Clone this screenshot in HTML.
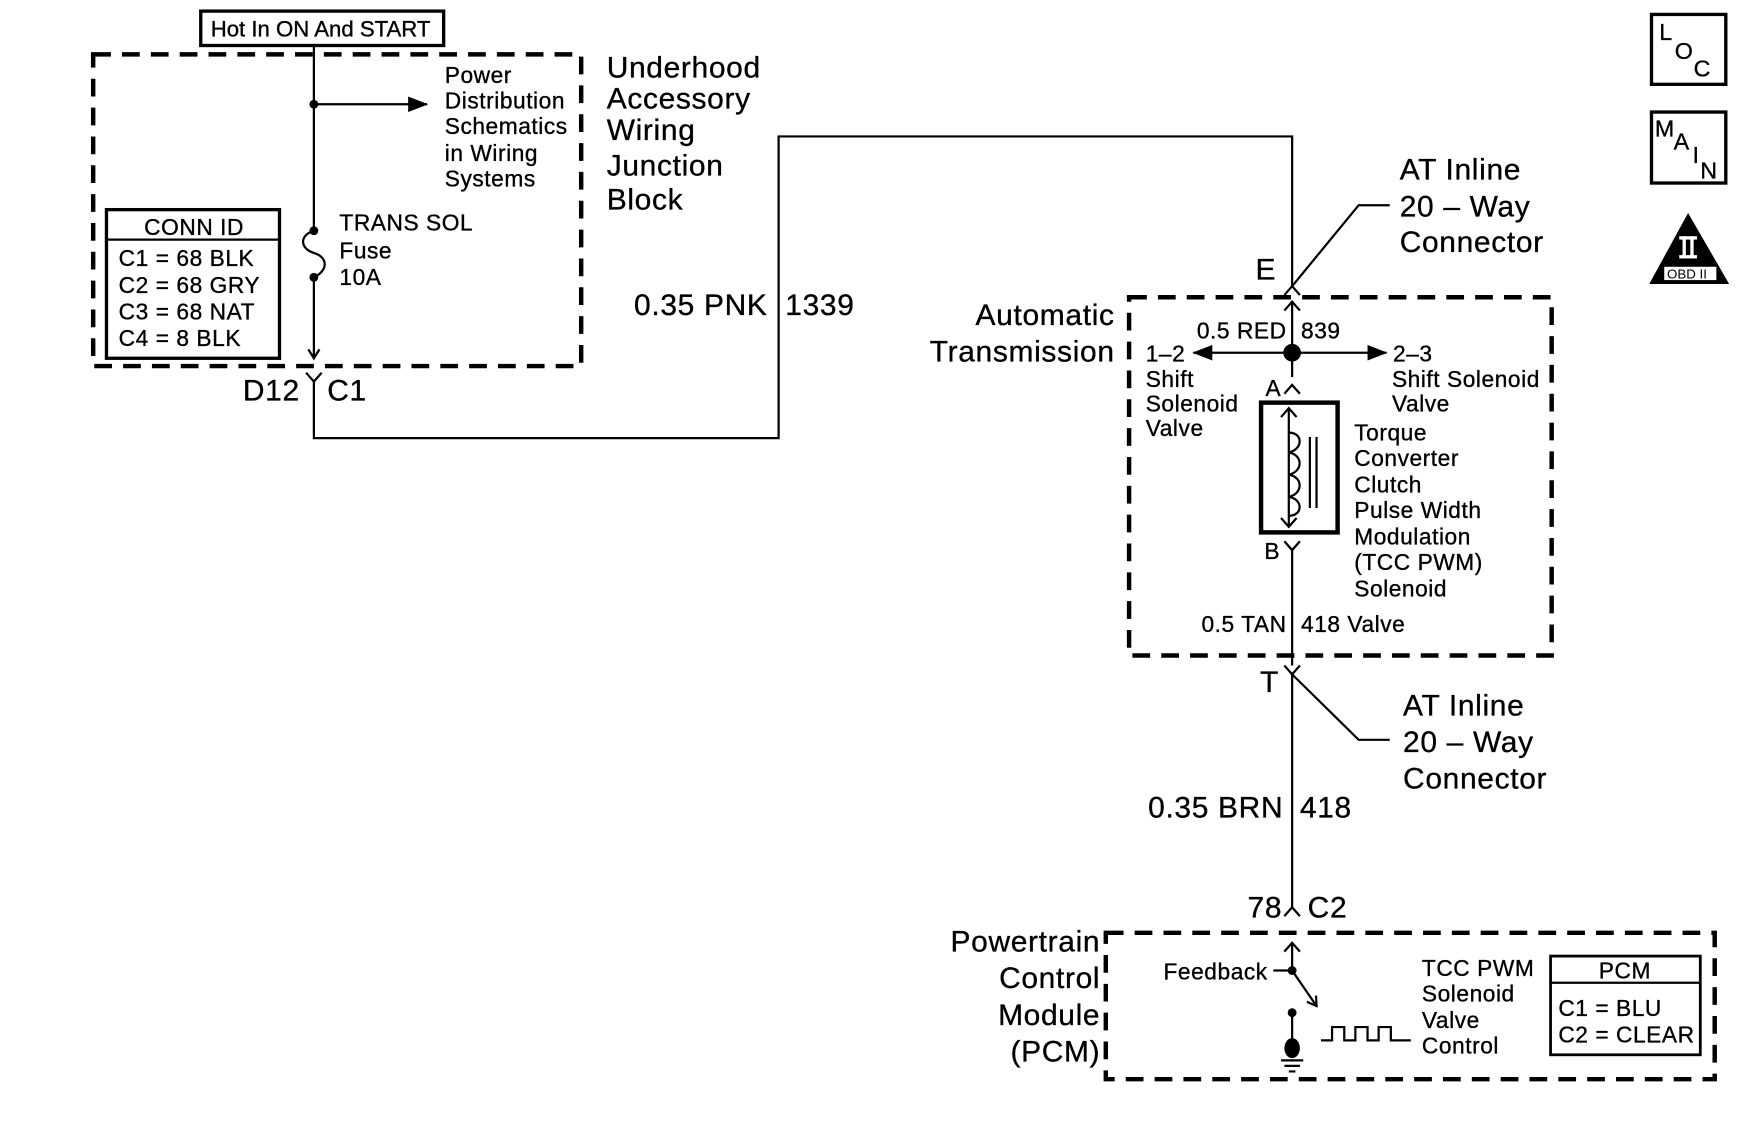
<!DOCTYPE html>
<html><head><meta charset="utf-8"><style>
html,body{margin:0;padding:0;background:#fff;}
svg{display:block;}
text{font-family:"Liberation Sans",sans-serif;fill:#000;stroke:#000;stroke-width:0.3;}
</style></head><body>
<svg width="1738" height="1140" viewBox="0 0 1567 1027.8" xmlns="http://www.w3.org/2000/svg">
<defs>
<marker id="ar2" markerWidth="18" markerHeight="14" refX="17" refY="7" orient="auto" markerUnits="userSpaceOnUse"><path d="M0,0 L18,7 L0,14 z" fill="#000"/></marker>
<marker id="oa" markerWidth="12" markerHeight="12" refX="10" refY="6" orient="auto" markerUnits="userSpaceOnUse"><path d="M2,1 L10,6 L2,11" fill="none" stroke="#000" stroke-width="2"/></marker>
</defs>
<g fill="none" stroke="#000">
<rect x="181" y="10" width="219" height="31" stroke-width="3"/>
<rect x="84" y="49" width="440" height="281" stroke-width="4" stroke-dasharray="16,10"/>
<rect x="96" y="189" width="156" height="134" stroke-width="3"/>
<line x1="96" y1="216" x2="252" y2="216" stroke-width="2"/>
<line x1="283" y1="41" x2="283" y2="208" stroke-width="2"/>
<path d="M283,208 C270,212 270,224 283,228 C296,232 296,244 283,250" stroke-width="2"/>
<line x1="283" y1="250" x2="283" y2="323" stroke-width="2" marker-end="url(#oa)"/>
<line x1="283" y1="94" x2="385" y2="94" stroke-width="2" marker-end="url(#ar2)"/>
<path d="M276,336 L283,344 L290,336" stroke-width="2"/>
<path d="M283,344 L283,395 L702,395 L702,123 L1165,123 L1165,258" stroke-width="2"/>
<path d="M1158,266 L1165,258 L1172,266" stroke-width="2"/>
<path d="M1165,258 L1225,185 L1253,185" stroke-width="2"/>
<rect x="1018" y="268" width="381" height="323" stroke-width="4" stroke-dasharray="16,10"/>
<line x1="1165" y1="272" x2="1165" y2="340" stroke-width="2"/>
<path d="M1158,280 L1165,272 L1172,280" stroke-width="2"/>
<line x1="1165" y1="318" x2="1076" y2="318" stroke-width="2" marker-end="url(#ar2)"/>
<line x1="1165" y1="318" x2="1250" y2="318" stroke-width="2" marker-end="url(#ar2)"/>
<path d="M1158,355 L1165,347 L1172,355" stroke-width="2"/>
<rect x="1137" y="363" width="69" height="117" stroke-width="4"/>
<line x1="1162" y1="368" x2="1162" y2="475" stroke-width="2"/>
<path d="M1155,376 L1162,368 L1169,376 M1155,467 L1162,475 L1169,467" stroke-width="2"/>
<path d="M1162,390 C1175,390 1175,405 1162,408 C1175,410 1175,425 1162,428 C1175,430 1175,445 1162,448 C1175,450 1175,465 1162,465" stroke-width="2"/>
<line x1="1181" y1="394" x2="1181" y2="458" stroke-width="2"/>
<line x1="1187" y1="394" x2="1187" y2="458" stroke-width="2"/>
<path d="M1158,488 L1165,496 L1172,488" stroke-width="2"/>
<line x1="1165" y1="496" x2="1165" y2="600" stroke-width="2"/>
<path d="M1158,600 L1165,608 L1172,600" stroke-width="2"/>
<line x1="1165" y1="608" x2="1165" y2="818" stroke-width="2"/>
<path d="M1165,608 L1225,667 L1253,667" stroke-width="2"/>
<path d="M1158,826 L1165,818 L1172,826" stroke-width="2"/>
<rect x="997" y="841" width="549" height="132" stroke-width="4" stroke-dasharray="16,10"/>
<line x1="1165" y1="875" x2="1165" y2="850" stroke-width="2"/>
<path d="M1158,858 L1165,850 L1172,858" stroke-width="2"/>
<line x1="1148" y1="875" x2="1165" y2="875" stroke-width="2"/>
<line x1="1165" y1="875" x2="1187" y2="907" stroke-width="2" marker-end="url(#oa)"/>
<line x1="1165" y1="913" x2="1165" y2="945" stroke-width="2"/>
<path d="M1155,956 L1175,956 M1158,961 L1172,961 M1162,966 L1168,966" stroke-width="2"/>
<path d="M1191,938 L1201,938 L1201,926 L1212,926 L1212,938 L1222,938 L1222,926 L1233,926 L1233,938 L1243,938 L1243,926 L1254,926 L1254,938 L1272,938" stroke-width="2"/>
<rect x="1398" y="862" width="135" height="89" stroke-width="2.5"/>
<line x1="1398" y1="886" x2="1533" y2="886" stroke-width="2"/>
<rect x="1489" y="13" width="67" height="63" stroke-width="3"/>
<rect x="1489" y="101" width="67" height="64" stroke-width="3"/>
</g>
<g fill="#000">
<circle cx="283" cy="94" r="4"/><circle cx="283" cy="208" r="4"/><circle cx="283" cy="250" r="4"/>
<circle cx="1165" cy="318" r="8"/>
<circle cx="1165" cy="875" r="4"/><circle cx="1165" cy="913" r="4"/>
<ellipse cx="1165" cy="945" rx="7" ry="9"/>
<path d="M1522,192 L1487,256 L1559,256 z"/>
</g>
<rect x="1500" y="240" width="48" height="13" fill="#fff" stroke="#000"/>
<rect x="1514" y="213" width="16" height="3" fill="#fff"/><rect x="1514" y="230" width="16" height="3" fill="#fff"/>
<rect x="1517" y="213" width="3" height="20" fill="#fff"/><rect x="1524" y="213" width="3" height="20" fill="#fff"/>
<text x="1503" y="251" font-size="12" style="stroke-width:0">OBD II</text>
<g font-size="21">
<text x="1496" y="36">L</text><text x="1510" y="53">O</text><text x="1527" y="69">C</text>
<text x="1492" y="123">M</text><text x="1509" y="135">A</text><text x="1526" y="147">I</text><text x="1533" y="161">N</text>
</g>
<text x="190" y="33" font-size="20" letter-spacing="0">Hot In ON And START</text>
<g font-size="20.5" letter-spacing="0.5">
<text x="130" y="212">CONN ID</text>
<text x="107" y="240">C1 = 68 BLK</text>
<text x="107" y="264">C2 = 68 GRY</text>
<text x="107" y="288">C3 = 68 NAT</text>
<text x="107" y="312">C4 = 8 BLK</text>
<text x="401" y="75">Power</text><text x="401" y="98">Distribution</text><text x="401" y="121">Schematics</text><text x="401" y="145">in Wiring</text><text x="401" y="168">Systems</text>
<text x="306" y="208">TRANS SOL</text><text x="306" y="233">Fuse</text><text x="306" y="257">10A</text>
<text x="1160" y="305" text-anchor="end">0.5 RED</text><text x="1173" y="305">839</text>
<text x="1033" y="326">1–2</text><text x="1033" y="349">Shift</text><text x="1033" y="371">Solenoid</text><text x="1033" y="393">Valve</text>
<text x="1256" y="326">2–3</text><text x="1255" y="349">Shift Solenoid</text><text x="1255" y="371">Valve</text>
<text x="1141" y="357">A</text><text x="1140" y="504">B</text>
<text x="1221" y="397">Torque</text><text x="1221" y="420">Converter</text><text x="1221" y="444">Clutch</text><text x="1221" y="467">Pulse Width</text><text x="1221" y="491">Modulation</text><text x="1221" y="514">(TCC PWM)</text><text x="1221" y="538">Solenoid</text>
<text x="1160" y="570" text-anchor="end">0.5 TAN</text><text x="1173" y="570">418  Valve</text>
<text x="1143" y="883" text-anchor="end">Feedback</text>
<text x="1282" y="880">TCC PWM</text><text x="1282" y="903">Solenoid</text><text x="1282" y="927">Valve</text><text x="1282" y="950">Control</text>
<text x="1465" y="882" text-anchor="middle">PCM</text>
<text x="1405" y="916">C1 = BLU</text><text x="1405" y="940">C2 = CLEAR</text>
</g>
<g font-size="27" letter-spacing="0.6">
<text x="219" y="361">D12</text><text x="295" y="361">C1</text>
<text x="547" y="70">Underhood</text><text x="547" y="98">Accessory</text><text x="547" y="126">Wiring</text><text x="547" y="158">Junction</text><text x="547" y="189">Block</text>
<text x="692" y="284" text-anchor="end">0.35 PNK</text><text x="708" y="284">1339</text>
<text x="1132" y="252">E</text>
<text x="1262" y="162">AT Inline</text><text x="1262" y="195">20 – Way</text><text x="1262" y="227">Connector</text>
<text x="1005" y="293" text-anchor="end">Automatic</text><text x="1005" y="326" text-anchor="end">Transmission</text>
<text x="1136" y="624">T</text>
<text x="1265" y="645">AT Inline</text><text x="1265" y="678">20 – Way</text><text x="1265" y="711">Connector</text>
<text x="1157" y="737" text-anchor="end">0.35 BRN</text><text x="1172" y="737">418</text>
<text x="1156" y="827" text-anchor="end">78</text><text x="1179" y="827">C2</text>
<text x="992" y="858" text-anchor="end">Powertrain</text><text x="992" y="891" text-anchor="end">Control</text><text x="992" y="924" text-anchor="end">Module</text><text x="992" y="957" text-anchor="end">(PCM)</text>
</g>
</svg>
</body></html>
